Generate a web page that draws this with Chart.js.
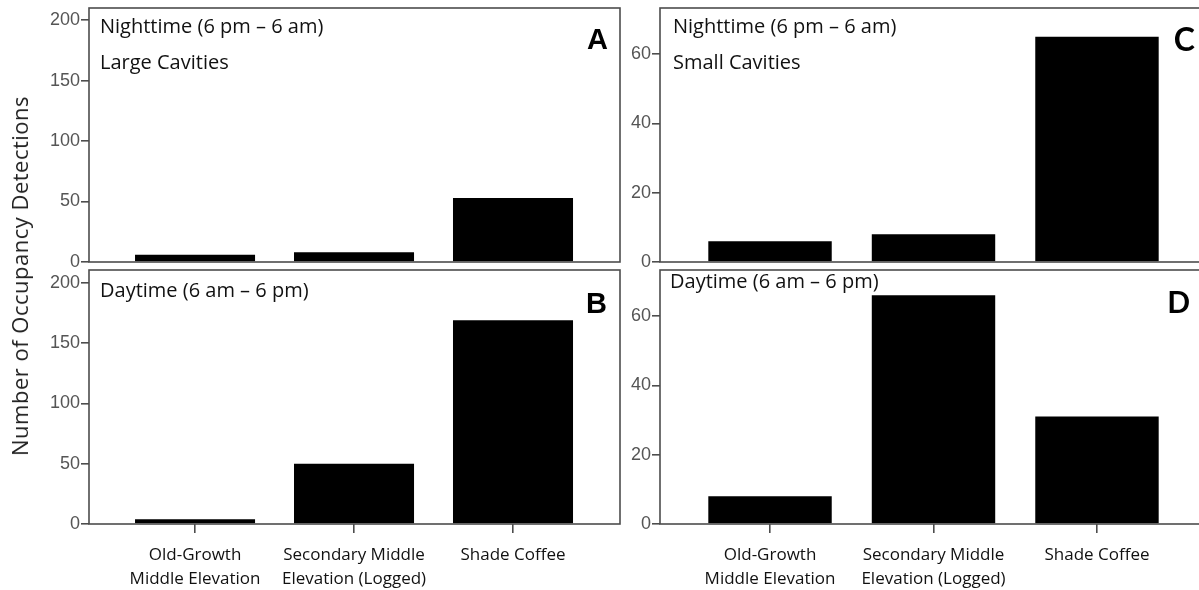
<!DOCTYPE html>
<html><head><meta charset="utf-8">
<script src="https://cdn.jsdelivr.net/npm/chart.js"></script>
<style>
html,body{margin:0;padding:0;background:#fff;overflow:hidden;width:1199px;height:590px;position:relative;}
canvas{position:absolute;}
#ytitle{position:absolute;left:19px;top:276px;transform:translate(-50%,-50%) rotate(-90deg);white-space:nowrap;font:22px "Open Sans";letter-spacing:0.5px;color:#222;}
</style></head><body>
<canvas id="cA" width="625" height="270" style="left:0;top:0"></canvas>
<canvas id="cB" width="625" height="328" style="left:0;top:262px"></canvas>
<canvas id="cC" width="590" height="270" style="left:622px;top:0"></canvas>
<canvas id="cD" width="590" height="328" style="left:622px;top:262px"></canvas>
<div id="ytitle">Number of Occupancy Detections</div>
<script>
// ---- data ----
const categories = [["Old-Growth","Middle Elevation"],["Secondary Middle","Elevation (Logged)"],["Shade Coffee"]];
const largeNight = [6, 8, 53];
const largeDay = [4, 50, 169];
const smallNight = [6, 8, 65];
const smallDay = [8, 66, 31];
const largeTicks = [0, 50, 100, 150, 200];
const smallTicks = [0, 20, 40, 60];
const panelTexts = {
  A: ["Nighttime (6 pm \u2013 6 am)", "Large Cavities"],
  B: ["Daytime (6 am \u2013 6 pm)"],
  C: ["Nighttime (6 pm \u2013 6 am)", "Small Cavities"],
  D: ["Daytime (6 am \u2013 6 pm)"]
};

const TEXT_FONT = '"Open Sans", sans-serif';

function decor(cfg){
  return {
    id: 'decor',
    afterDatasetsDraw(chart){
      const a = chart.chartArea, ctx = chart.ctx;
      ctx.save();
      ctx.strokeStyle = '#4d4d4d';
      ctx.lineWidth = 1.6;
      ctx.strokeRect(a.left, a.top, a.right - a.left, a.bottom - a.top);
      ctx.restore();
    },
    afterDraw(chart){
      const a = chart.chartArea, ctx = chart.ctx;
      ctx.save();
      ctx.fillStyle = '#111';
      ctx.textBaseline = 'alphabetic';
      ctx.textAlign = 'left';
      ctx.font = '20px ' + TEXT_FONT;
      cfg.lines.forEach((t, i) => {
        ctx.fillText(t, a.left + cfg.dx, a.top + cfg.dy + i * 36);
      });
      ctx.textAlign = 'right';
      ctx.fillStyle = '#000';
      ctx.font = cfg.letterFont;
      ctx.fillText(cfg.letter, a.right - cfg.lx, a.top + cfg.ly);
      ctx.restore();
    }
  };
}

function makeChart(id, values, yMax, yTicks, bottom, cfg, yWidth, xMin, xMax){
  const data = values.map((v, i) => ({x: i, y: v}));
  return new Chart(document.getElementById(id), {
    type: 'bar',
    data: { datasets: [{ data, backgroundColor: '#000', borderWidth: 0,
      barPercentage: 1, categoryPercentage: 0.755 }] },
    options: {
      responsive: false, animation: false,
      layout: { padding: { top: 8, bottom: bottom ? 0 : 8, right: 5, left: 0 } },
      plugins: { legend: { display: false }, tooltip: { enabled: false } },
      scales: {
        x: {
          type: 'linear', min: xMin, max: xMax, display: bottom, offset: false,
          afterBuildTicks: s => { s.ticks = categories.map((c, i) => ({ value: i })); },
          afterFit: s => { if (bottom) s.height = 66; s.paddingLeft = 0; s.paddingRight = 0; },
          grid: { offset: false, drawOnChartArea: false, drawTicks: true, tickLength: 9, color: '#4d4d4d', lineWidth: 1.6 },
          border: { display: false },
          ticks: { padding: 10, color: '#111', maxRotation: 0, autoSkip: false,
            font: { family: TEXT_FONT, size: 17, lineHeight: 1.4 },
            callback: v => categories[v] }
        },
        y: {
          min: 0, max: yMax,
          afterBuildTicks: s => { s.ticks = yTicks.map(v => ({ value: v })); },
          afterFit: s => { s.width = yWidth; s.paddingTop = 0; s.paddingBottom = 0; },
          grid: { drawOnChartArea: false, drawTicks: true, tickLength: 8, color: '#4d4d4d', lineWidth: 1.6 },
          border: { display: false },
          ticks: { padding: 1, color: '#555', font: { family: '"Liberation Sans", Arial, sans-serif', size: 18 } }
        }
      }
    },
    plugins: [decor(cfg)]
  });
}

makeChart('cA', largeNight, 210, largeTicks, false,
  { lines: panelTexts.A, dx: 11, dy: 25, letter: 'A', letterFont: 'bold 29px "Liberation Sans", Arial', lx: 12, ly: 41 }, 89, -0.667, 2.673);
makeChart('cB', largeDay, 210.8, largeTicks, true,
  { lines: panelTexts.B, dx: 11, dy: 27, letter: 'B', letterFont: 'bold 29px "Liberation Sans", Arial', lx: 13, ly: 43 }, 89, -0.667, 2.673);
makeChart('cC', smallNight, 73.3, smallTicks, false,
  { lines: panelTexts.C, dx: 13, dy: 25, letter: 'C', letterFont: 'bold 32px Lato', lx: 12, ly: 43 }, 38, -0.673, 2.673);
makeChart('cD', smallDay, 73.3, smallTicks, true,
  { lines: panelTexts.D, dx: 10, dy: 18, letter: 'D', letterFont: 'bold 30px Lato', lx: 17, ly: 43 }, 38, -0.673, 2.673);
</script>
</body></html>
